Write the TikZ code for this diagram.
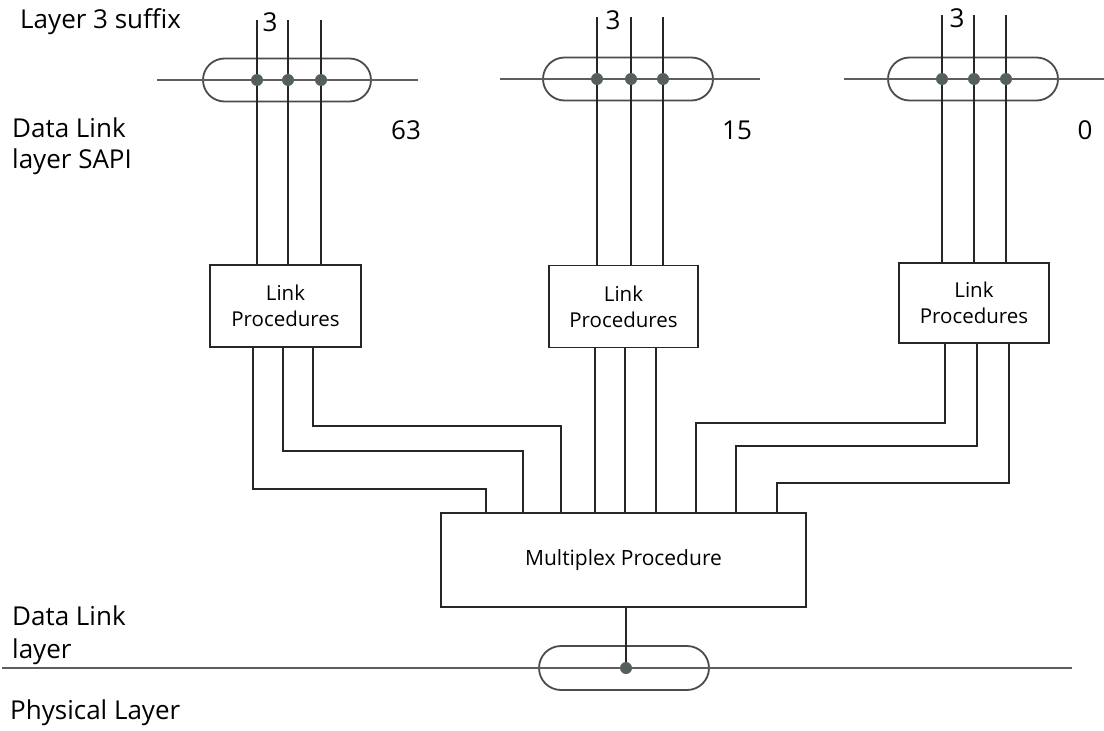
\documentclass[tikz,border=0pt]{standalone}
\usepackage{fontspec}
\setmainfont{Open Sans}
\usetikzlibrary{shapes.misc}
\definecolor{inkc}{HTML}{262626}
\definecolor{busc}{HTML}{5E5E5E}
\definecolor{dotc}{HTML}{56605A}

\begin{document}
\begin{tikzpicture}[x=1pt, y=-1pt,
    wire/.style={draw=inkc, line width=1.8pt},
    bus/.style={draw=busc, line width=1.8pt},
    box/.style={draw=inkc, line width=1.8pt, minimum width=151pt, minimum height=82pt, inner sep=0pt, align=center, font=\fontsize{20.5}{26}\selectfont},
    sap/.style={draw=busc!80!black, line width=1.8pt, rounded rectangle, minimum width=168pt, minimum height=43pt, inner sep=0pt},
    dot/.style={circle, fill=dotc, inner sep=0pt, minimum size=12pt},
    lbl/.style={font=\fontsize{26}{31}\selectfont, align=left, inner sep=0pt}
]
    \useasboundingbox (0,0) rectangle (1104,731);

    % layer names
    \node[lbl, anchor=west] (l3) at (20,22) {Layer 3 suffix};
    \node[lbl, anchor=west] (sapi) at (12,146) {Data Link\\layer SAPI};
    \node[lbl, anchor=west, font=\fontsize{26}{33}\selectfont] (dll) at (12,635) {Data Link\\layer};
    \node[lbl, anchor=west] (phy) at (10,713) {Physical Layer};

    % service access points
    \node[sap] (sap1) at (287,80) {};
    \node[sap, minimum width=170pt] (sap2) at (628,79) {};
    \node[sap, minimum width=170pt] (sap3) at (973,79) {};
    \draw[bus] ([xshift=-45pt]sap1.west) -- ([xshift=46pt]sap1.east);
    \draw[bus] ([xshift=-42pt]sap2.west) -- ([xshift=46pt]sap2.east);
    \draw[bus] ([xshift=-43pt]sap3.west) -- ([xshift=45pt]sap3.east);
    \foreach \n/\x in {1/257, 2/288, 3/321} \node[dot] (a\n) at (\x,80) {};
    \foreach \n/\x in {1/597, 2/631, 3/663} \node[dot] (b\n) at (\x,79) {};
    \foreach \n/\x in {1/942, 2/974, 3/1006} \node[dot] (c\n) at (\x,79) {};

    \node[lbl] (s1) at (270,22) {3};
    \node[lbl] (s2) at (613,20) {3};
    \node[lbl] (s3) at (957,18) {3};
    \node[lbl] (v1) at (406,130) {63};
    \node[lbl] (v2) at (737,130) {15};
    \node[lbl] (v3) at (1085,130) {0};

    % procedures
    \node[box] (lp1) at (285.5,306) {Link\\Procedures};
    \node[box, minimum width=149pt] (lp2) at (623.5,306.5) {Link\\Procedures};
    \node[box, minimum width=150pt, minimum height=80pt] (lp3) at (974,303) {Link\\Procedures};
    \node[box, minimum width=365pt, minimum height=94pt, font=\fontsize{21}{26}\selectfont] (mux) at (623.5,560) {Multiplex Procedure};

    \foreach \n in {1,2,3} {
        \draw[wire] (a\n) -- ++(0,-60);
        \draw[wire] (a\n) -- (a\n |- lp1.north);
        \draw[wire] (b\n) -- ++(0,-62);
        \draw[wire] (b\n) -- (b\n |- lp2.north);
        \draw[wire] (c\n) -- ++(0,-64);
        \draw[wire] (c\n) -- (c\n |- lp3.north);
    }

    % links down to the multiplexer
    \draw[wire] ([xshift=-32.5pt]lp1.south) -- ++(0,141) -| ([xshift=-137.5pt]mux.north);
    \draw[wire] ([xshift=-2.5pt]lp1.south) -- ++(0,103) -| ([xshift=-100.5pt]mux.north);
    \draw[wire] ([xshift=27.5pt]lp1.south) -- ++(0,78) -| ([xshift=-62.5pt]mux.north);
    \foreach \d in {-28.5, 1.5, 32.5}
        \draw[wire] ([xshift=\d pt]lp2.south) -- ([xshift=\d pt]mux.north);
    \draw[wire] ([xshift=-29pt]lp3.south) -- ++(0,79) -| ([xshift=72.5pt]mux.north);
    \draw[wire] ([xshift=3pt]lp3.south) -- ++(0,102) -| ([xshift=112.5pt]mux.north);
    \draw[wire] ([xshift=35pt]lp3.south) -- ++(0,139) -| ([xshift=153.5pt]mux.north);

    % physical layer
    \node[sap, minimum width=170pt, minimum height=44pt] (phs) at (624,668) {};
    \draw[bus] ([xshift=-536pt]phs.west) -- ([xshift=362pt]phs.east);
    \node[dot] (p1) at (626,668) {};
    \draw[wire] (mux.south -| p1) -- (p1);
\end{tikzpicture}
\end{document}
